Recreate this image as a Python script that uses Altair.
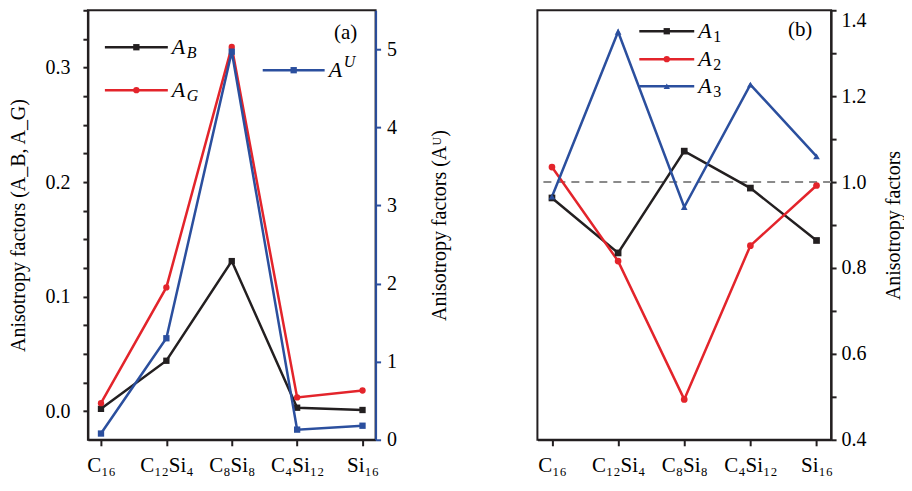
import altair as alt
import pandas as pd

# ---------------- data ----------------
categories = ["C₁₆", "C₁₂Si₄", "C₈Si₈", "C₄Si₁₂", "Si₁₆"]

# panel (a)
a_b = [0.002, 0.044, 0.131, 0.003, 0.001]
a_g = [0.007, 0.108, 0.318, 0.012, 0.018]
a_u = [0.08, 1.30, 4.97, 0.13, 0.18]

# panel (b)
a_1 = [0.963, 0.835, 1.072, 0.986, 0.864]
a_2 = [1.035, 0.816, 0.494, 0.852, 0.992]
a_3 = [0.966, 1.350, 0.942, 1.227, 1.060]

left_ticks = [0.0, 0.025, 0.05, 0.075, 0.1, 0.125, 0.15, 0.175, 0.2, 0.225, 0.25, 0.275, 0.3, 0.325, 0.35]
au_ticks = [0, 1, 2, 3, 4, 5]
right_ticks = [0.4, 0.5, 0.6, 0.7, 0.8, 0.9, 1.0, 1.1, 1.2, 1.3, 1.4]
reference_line = [1.0]
panel_labels = ["(a)", "(b)"]

BLACK = "#231f20"
RED = "#e3242b"
BLUE = "#2b4f9e"
GRAY = "#8a8a8a"
FONT = "Liberation Serif"

W1, W2, H = 288, 294, 430


def long_df(names, arrays):
    rows = []
    for n, arr in zip(names, arrays):
        for c, v in zip(categories, arr):
            rows.append({"cat": c, "series": n, "value": v})
    return pd.DataFrame(rows)


def legend_item(main, sub, color, shape, size, x0, x1, y, sub_dy, sub_italic):
    df = pd.DataFrame({"main": [main], "sub": [sub]})
    base = alt.Chart(df)
    line = base.mark_rule(color=color, strokeWidth=2.5).encode(
        x=alt.value(x0), x2=alt.value(x1), y=alt.value(y))
    pt = base.mark_point(filled=True, opacity=1, color=color, shape=shape, size=size).encode(
        x=alt.value((x0 + x1) / 2), y=alt.value(y))
    t_main = base.mark_text(align="left", baseline="middle", font=FONT, fontStyle="italic",
                            fontSize=22, color="black").encode(
        x=alt.value(x1 + 4), y=alt.value(y), text="main:N")
    t_sub = base.mark_text(align="left", baseline="middle", font=FONT,
                           fontStyle="italic" if sub_italic else "normal",
                           fontSize=16, color="black", dx=15, dy=sub_dy).encode(
        x=alt.value(x1 + 4), y=alt.value(y), text="sub:N")
    return alt.layer(line, pt, t_main, t_sub)


# ---------------- panel (a) ----------------
df_bg = long_df(["A_B", "A_G"], [a_b, a_g])
df_u = long_df(["A^U"], [a_u])

x_left = alt.X("cat:N", sort=categories,
               scale=alt.Scale(type="point", padding=0.2),
               axis=alt.Axis(title=None, labelAngle=0, tickSize=6, labelPadding=9, labelFontSize=21))

y_left = alt.Y("value:Q",
               scale=alt.Scale(domain=[-0.025, 0.35], nice=False, zero=False),
               axis=alt.Axis(orient="left", values=left_ticks,
                             labelExpr="round(datum.value*1000) % 100 == 0 ? format(datum.value, '.1f') : ''",
                             title="Anisotropy factors (A_B, A_G)",
                             labelPadding=13, titlePadding=16))

color_bg = alt.Color("series:N", scale=alt.Scale(domain=["A_B", "A_G"], range=[BLACK, RED]), legend=None)
shape_bg = alt.Shape("series:N", scale=alt.Scale(domain=["A_B", "A_G"], range=["square", "circle"]), legend=None)

bg_lines = alt.Chart(df_bg).mark_line(strokeWidth=2.5).encode(x=x_left, y=y_left, color=color_bg)
bg_pts = alt.Chart(df_bg).mark_point(filled=True, opacity=1, size=40).encode(
    x=x_left, y=y_left, color=color_bg, shape=shape_bg)

y_u = alt.Y("value:Q",
            scale=alt.Scale(domain=[0, 5.5], nice=False, zero=False),
            axis=alt.Axis(orient="right", values=au_ticks, format="d",
                          domainColor=BLUE, tickColor=BLUE,
                          title="Anisotropy factors (Aᵁ)", titleAngle=270, titleBaseline="top",
                          labelPadding=6, titlePadding=33))

u_line = alt.Chart(df_u).mark_line(strokeWidth=2.5, color=BLUE).encode(x=x_left, y=y_u)
u_pts = alt.Chart(df_u).mark_point(filled=True, opacity=1, size=40, shape="square", color=BLUE).encode(
    x=x_left, y=y_u)

leg_a = alt.layer(
    legend_item("A", "B", BLACK, "square", 40, 17, 80, 37, 6, True),
    legend_item("A", "G", RED, "circle", 40, 17, 80, 80, 6, True),
    legend_item("A", "U", BLUE, "square", 40, 175, 237, 60, -8, True),
)
lab_a = alt.Chart(pd.DataFrame({"t": [panel_labels[0]]})).mark_text(
    font=FONT, fontSize=21, color="black").encode(x=alt.value(258), y=alt.value(23), text="t:N")

left = alt.layer(
    alt.layer(bg_lines, bg_pts),
    alt.layer(u_line, u_pts),
    leg_a, lab_a,
).resolve_scale(y="independent").properties(width=W1, height=H)

# ---------------- panel (b) ----------------
df_b = long_df(["A1", "A2", "A3"], [a_1, a_2, a_3])

x_right = alt.X("cat:N", sort=categories,
                scale=alt.Scale(type="point", padding=0.22),
                axis=alt.Axis(title=None, labelAngle=0, tickSize=6, labelPadding=9, labelFontSize=21))
y_right = alt.Y("value:Q",
                scale=alt.Scale(domain=[0.4, 1.4], nice=False, zero=False),
                axis=alt.Axis(orient="right", values=right_ticks,
                              labelExpr="round(datum.value*10) % 2 == 0 ? format(datum.value, '.1f') : ''",
                              labelBaseline={"condition": {"test": "datum.value > 1.39", "value": "top"},
                                             "value": "middle"},
                              title="Anisotropy factors", titleAngle=270, titleBaseline="top",
                              labelPadding=5, titlePadding=17))

color_b = alt.Color("series:N", scale=alt.Scale(domain=["A1", "A2", "A3"], range=[BLACK, RED, BLUE]), legend=None)
shape_b = alt.Shape("series:N", scale=alt.Scale(domain=["A1", "A2", "A3"],
                                                 range=["square", "circle", "triangle-up"]), legend=None)

ref = alt.Chart(pd.DataFrame({"value": reference_line})).mark_rule(
    color=GRAY, strokeWidth=2, strokeDash=[8, 6]).encode(y=y_right)
b_lines = alt.Chart(df_b).mark_line(strokeWidth=2.5).encode(x=x_right, y=y_right, color=color_b)
b_pts = alt.Chart(df_b).mark_point(filled=True, opacity=1, size=45).encode(
    x=x_right, y=y_right, color=color_b, shape=shape_b)

leg_b = alt.layer(
    legend_item("A", "1", BLACK, "square", 40, 102, 157, 21, 6, False),
    legend_item("A", "2", RED, "circle", 40, 102, 157, 49, 6, False),
    legend_item("A", "3", BLUE, "triangle-up", 40, 102, 157, 76, 6, False),
)
lab_b = alt.Chart(pd.DataFrame({"t": [panel_labels[1]]})).mark_text(
    font=FONT, fontSize=21, color="black").encode(x=alt.value(263), y=alt.value(20), text="t:N")

right = alt.layer(ref, b_lines, b_pts, leg_b, lab_b).properties(width=W2, height=H)

chart = alt.hconcat(left, right, spacing=85).resolve_scale(
    color="independent", shape="independent"
).configure_view(
    stroke=BLACK, strokeWidth=2
).configure_axis(
    labelFont=FONT, titleFont=FONT, labelFontSize=20, titleFontSize=20,
    titleFontWeight="normal", labelColor="black", titleColor="black",
    domainColor=BLACK, domainWidth=2, tickColor=BLACK, tickWidth=2, tickSize=5, grid=False
).properties(padding=0)

chart.save("out.html", embed_options={"renderer": "svg", "actions": False})
